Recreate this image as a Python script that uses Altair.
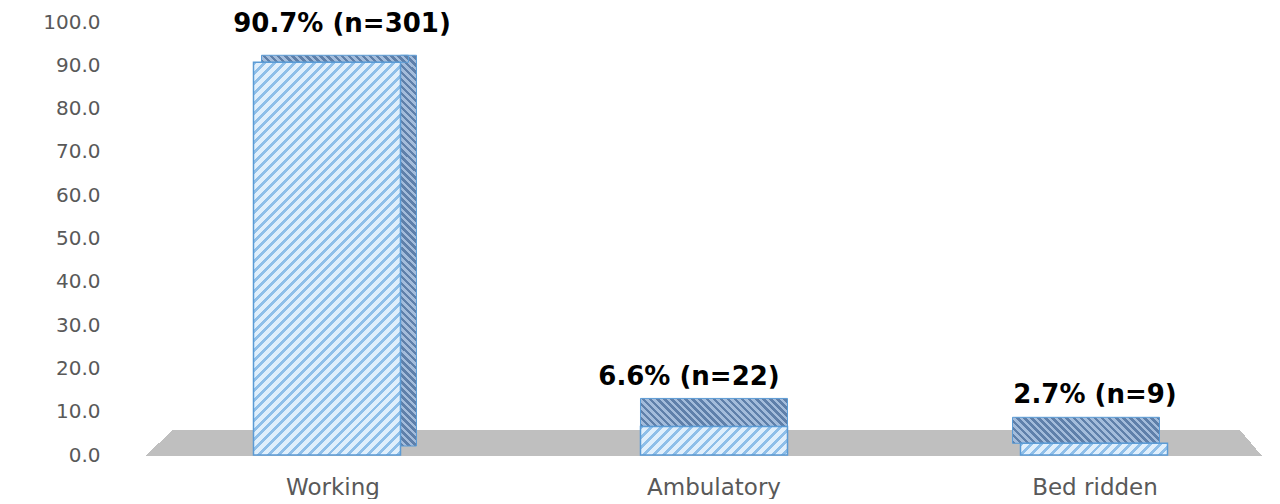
import math
import altair as alt
import pandas as pd

# ---------------- data ----------------
categories = ["Working", "Ambulatory", "Bed ridden"]
percents = [90.7, 6.6, 2.7]
counts = [301, 22, 9]
y_ticks = [0, 10, 20, 30, 40, 50, 60, 70, 80, 90, 100]

df = pd.DataFrame({"category": categories, "pct": percents, "n": counts})
df["label"] = [f"{p}% (n={c})" for p, c in zip(percents, counts)]

# ---------------- style ----------------
W_PLOT = 1112
H_PLOT = 433
PX = H_PLOT / 100.0
BAR_W = 147
FONT = "DejaVu Sans"
EDGE = "#5b9bd5"
FRONT_BG, FRONT_FG = "#e0effc", "#8fbfe9"
TOP_BG, TOP_FG = "#a3bcdb", "#5f80aa"
FLOOR = "#bfbfbf"


def hatch(w, h, period, bg, fg, frac, direction="/"):
    """Diagonal stripes built from a bounding-box linear gradient."""
    n = (w + h) / (period * math.sqrt(2))
    d = w * w + h * h
    a = w * (w + h) / d
    b = h * (w + h) / d
    stops = []
    k = 0
    while k < n:
        s0 = k / n
        s1 = min((k + frac) / n, 1.0)
        s2 = min((k + 1) / n, 1.0)
        stops += [
            {"offset": s0, "color": fg},
            {"offset": s1, "color": fg},
            {"offset": s1, "color": bg},
            {"offset": s2, "color": bg},
        ]
        k += 1
    if direction == "/":
        return {"gradient": "linear", "x1": 0, "y1": 0, "x2": a, "y2": b, "stops": stops}
    return {"gradient": "linear", "x1": 0, "y1": 1, "x2": a, "y2": 1 - b, "stops": stops}


def floor_edge(ut, ub, left):
    """Grey fill with one slanted end (edge through (ut,0) and (ub,1))."""
    k = ub - ut
    t = ut / (1 + k * k)
    if left:
        stops = [{"offset": 0, "color": "#ffffff"}, {"offset": t, "color": "#ffffff"},
                 {"offset": t, "color": FLOOR}, {"offset": 1, "color": FLOOR}]
    else:
        stops = [{"offset": 0, "color": FLOOR}, {"offset": t, "color": FLOOR},
                 {"offset": t, "color": "#ffffff"}, {"offset": 1, "color": "#ffffff"}]
    return {"gradient": "linear", "x1": 0, "y1": 0, "x2": 1, "y2": -k, "stops": stops}


X = alt.X(
    "category:N",
    sort=categories,
    title=None,
    scale=alt.Scale(paddingInner=0.2, paddingOuter=0.0593, align=0.677),
    axis=alt.Axis(labelAngle=0, labelFont=FONT, labelFontSize=23, labelColor="#595959",
                  labelPadding=21, ticks=False, tickSize=0, domain=False, grid=False),
)
Y = alt.Y(
    "pct:Q",
    title=None,
    scale=alt.Scale(domain=[0, 100], nice=False),
    axis=alt.Axis(values=y_ticks, format=".1f", labelFont=FONT, labelFontSize=20,
                  labelColor="#595959", labelPadding=50, ticks=False, tickSize=0,
                  domain=False, grid=False),
)

# floor (grey slab)
floor_df = pd.DataFrame({"k": [0]})
half = W_PLOT / 2 + 6
floor_left = alt.Chart(floor_df).mark_rect(
    fill=floor_edge(28 / (half + 5), 0.0, True)
).encode(x=alt.value(-5), x2=alt.value(half), y=alt.value(H_PLOT - 25), y2=alt.value(H_PLOT + 1))
wr = W_PLOT - half
floor_right = alt.Chart(floor_df).mark_rect(
    fill=floor_edge((wr - 22) / wr, 1.0, False)
).encode(x=alt.value(half - 1), x2=alt.value(W_PLOT), y=alt.value(H_PLOT - 25), y2=alt.value(H_PLOT + 1))

layers = [floor_left, floor_right]

# per-bar 3D look: front offset, top depth, top shift, label dx, label dy, side face
bar_style = {
    "Working": dict(fx=-6, depth=7, tx=8, ldx=9, ldy=-30, side=True),
    "Ambulatory": dict(fx=0, depth=28, tx=0, ldx=-25, ldy=-41, side=False),
    "Bed ridden": dict(fx=-1, depth=26, tx=-8, ldx=0, ldy=-40, side=False),
}

for cat, pct in zip(categories, percents):
    st = bar_style[cat]
    src = alt.Chart(df).transform_filter(alt.datum.category == cat)
    h = pct * PX
    if st["side"]:
        side = src.mark_bar(
            width=16, xOffset=st["fx"] + BAR_W / 2 + 8, yOffset=-st["depth"], y2Offset=-9,
            fill=hatch(16, h, 5, TOP_BG, TOP_FG, 0.5, "\\"), stroke=EDGE, strokeWidth=1,
        ).encode(x=X, y=Y, y2=alt.datum(0))
        layers.append(side)
    top = src.mark_bar(
        width=BAR_W, xOffset=st["fx"] + st["tx"], y2Offset=-st["depth"],
        fill=hatch(BAR_W, st["depth"], 5, TOP_BG, TOP_FG, 0.5, "\\"),
        stroke=EDGE, strokeWidth=1,
    ).encode(x=X, y=Y, y2=alt.Y2("pct:Q"))
    front = src.mark_bar(
        width=BAR_W, xOffset=st["fx"],
        fill=hatch(BAR_W, h, 7, FRONT_BG, FRONT_FG, 0.4, "/"),
        stroke=EDGE, strokeWidth=1.5,
    ).encode(x=X, y=Y)
    text = src.mark_text(
        dx=st["ldx"], dy=st["ldy"], baseline="alphabetic", align="center",
        font=FONT, fontSize=26, fontWeight="bold", color="#000000",
    ).encode(x=X, y=Y, text="label:N")
    layers += [top, front, text]

chart = alt.layer(*layers).properties(
    width=W_PLOT,
    height=H_PLOT,
    autosize=alt.AutoSizeParams(type="none"),
    padding={"left": 142, "top": 14, "right": 2, "bottom": 44},
).configure_view(stroke=None)

chart.save("out.html", embed_options={"renderer": "svg", "actions": False})
